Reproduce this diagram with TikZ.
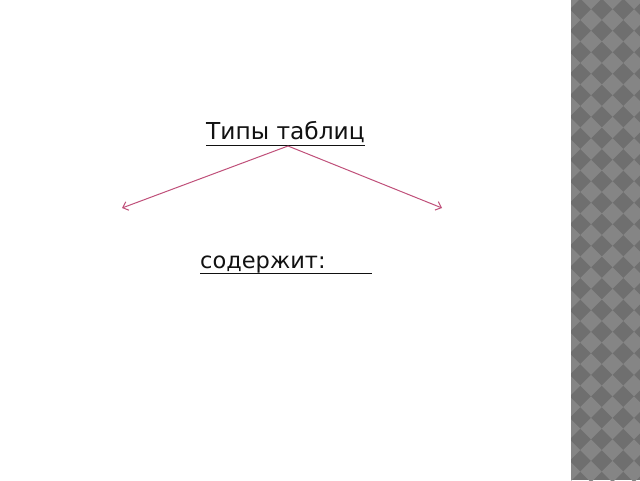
\documentclass[tikz,border=0pt]{standalone}
\usepackage{fontspec}
\setmainfont{DejaVu Sans}
\usetikzlibrary{arrows.meta}
\definecolor{stripdark}{HTML}{6F6F6F}
\definecolor{striplight}{HTML}{858585}
\definecolor{arrowrose}{HTML}{C0507A}
\definecolor{textcol}{HTML}{111111}
\begin{document}
\begin{tikzpicture}[x=1pt,y=-1pt,
  label/.style={inner sep=0pt,font=\fontsize{22.5}{26}\selectfont,text=textcol},
  uline/.style={draw=textcol,line width=1.4pt},
  branch/.style={draw=arrowrose,line width=1pt,-{Straight Barb[length=5pt,width=9pt]}}]
\useasboundingbox (0,0) rectangle (640,480);
\fill[white] (0,0) rectangle (640,480);
% right decorative strip
\begin{scope}
\clip (571,0) rectangle (640,480);
\fill[stripdark] (571,0) rectangle (640,480);
\foreach \i in {-2,...,4}{
  \foreach \j in {-2,...,24}{
    \fill[striplight] ({591+21.5*\i},{20+21.5*\j-10.75}) -- ++(10.75,10.75) -- ++(-10.75,10.75) -- ++(-10.75,-10.75) -- cycle;
  }
}
\end{scope}
% texts
\node[label,font=\fontsize{23.3}{27}\selectfont,anchor=base west] (title) at (206,139.5) {Типы таблиц};
\draw[uline,line width=1.8pt] ([yshift=-6]title.base west) -- ([yshift=-6]title.base east);
\node[label,anchor=base west] (cont) at (200,268) {содержит:};
\coordinate (contend) at (372,0);
\draw[uline] ([yshift=-5.5]cont.base west) -- ([yshift=-5.5]cont.base west -| contend);
% branches
\coordinate (apex) at (288,146);
\coordinate (lefttip) at (122,208);
\coordinate (righttip) at (442,208);
\draw[branch] (apex) -- (lefttip);
\draw[branch] (apex) -- (righttip);
\end{tikzpicture}
\end{document}
